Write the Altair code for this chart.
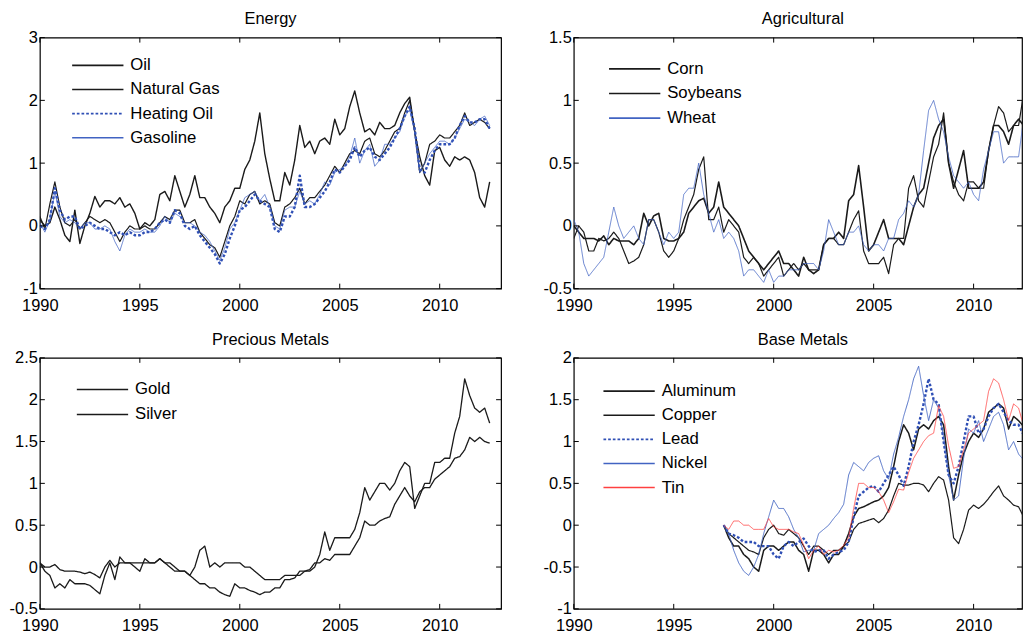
import altair as alt
import pandas as pd

FONT = "Liberation Sans"
BLACK = "#1a1a1a"
BLUE = "#2f4fb5"
BLUE_T = "#4163c2"
RED = "#ff4040"

X_TICKS = [1990, 1995, 2000, 2005, 2010]

# ---------------- Energy (quarterly from 1990.0) ----------------
energy_names = ["Oil", "Natural Gas", "Heating Oil", "Gasoline"]
oil = [
    0.15, -0.05, 0.35, 0.7,
    0.3, 0.05, 0.0, 0.1,
    -0.05, 0.05, 0.15, 0.1,
    0.05, 0.1, 0.05, -0.1,
    -0.25, -0.1, 0.0, -0.05,
    -0.05, 0.0, -0.05, -0.05,
    0.05, 0.15, 0.1, 0.25,
    0.25, 0.05, 0.05, 0.1,
    -0.1, -0.2, -0.3, -0.35,
    -0.5, -0.25, 0.0, 0.15,
    0.4, 0.35, 0.5, 0.55,
    0.35, 0.4, 0.35, 0.05,
    0.0, 0.3, 0.35, 0.45,
    0.6, 0.35, 0.45, 0.45,
    0.55, 0.65, 0.8, 0.95,
    0.85, 1.0, 1.15, 1.2,
    1.15, 1.35, 1.4, 1.15,
    1.1, 1.2, 1.35, 1.5,
    1.55, 1.8, 2.0, 1.5,
    0.85, 1.0, 1.3, 1.35,
    1.45, 1.4, 1.4, 1.5,
    1.6, 1.8, 1.6, 1.65,
    1.7, 1.65, 1.55,
]
natural_gas = [
    0.1, 0.0, 0.05, 0.3,
    0.1, -0.15, -0.25, 0.25,
    -0.28, 0.0, 0.2, 0.47,
    0.3, 0.4, 0.4, 0.35,
    0.45, 0.3, 0.35, 0.2,
    -0.05, 0.05, 0.0, 0.1,
    0.5, 0.55, 0.4, 0.8,
    0.55, 0.3, 0.5, 0.8,
    0.45, 0.45, 0.3, 0.2,
    0.05, 0.3, 0.4, 0.6,
    0.6, 0.9, 1.05, 1.35,
    1.8, 1.15, 0.75, 0.4,
    0.4, 0.85, 0.65, 1.05,
    1.6, 1.25, 1.35, 1.15,
    1.35, 1.4, 1.3, 1.7,
    1.45, 1.55, 1.9, 2.15,
    1.8, 1.5, 1.55, 1.45,
    1.65, 1.55, 1.55, 1.6,
    1.8, 1.95, 2.05, 1.5,
    1.1, 0.8, 0.65, 1.2,
    1.25, 1.05, 0.95, 1.1,
    1.05, 1.1, 1.05, 0.85,
    0.45, 0.3, 0.7,
]
heating_oil = [
    0.0, -0.05, 0.1, 0.6,
    0.25, 0.1, 0.15, 0.15,
    -0.05, 0.0, 0.05, 0.0,
    -0.05, -0.05, -0.1, -0.15,
    -0.1, -0.15, -0.1, -0.15,
    -0.15, -0.1, -0.1, -0.05,
    0.05, 0.1, 0.05, 0.25,
    0.2, 0.0, -0.05, 0.0,
    -0.15, -0.25, -0.35, -0.45,
    -0.6, -0.45, -0.2, 0.0,
    0.25, 0.3, 0.4, 0.5,
    0.4, 0.35, 0.3, -0.05,
    -0.1, 0.15, 0.15, 0.3,
    0.8, 0.3, 0.3, 0.35,
    0.45, 0.55, 0.7, 0.9,
    0.85, 0.95, 1.05, 1.25,
    1.1, 1.2, 1.25, 1.1,
    1.05, 1.15, 1.25, 1.4,
    1.55, 1.75, 1.9, 1.55,
    0.9, 0.85, 1.05, 1.2,
    1.3, 1.3, 1.3, 1.4,
    1.6, 1.75, 1.65, 1.65,
    1.7, 1.7, 1.55,
]
gasoline = [
    0.05, -0.1, 0.1, 0.55,
    0.15, 0.05, 0.1, 0.05,
    -0.05, 0.05, 0.05, -0.05,
    -0.05, 0.0, -0.05, -0.25,
    -0.4, -0.15, -0.05, -0.1,
    -0.1, -0.05, -0.1, -0.1,
    0.0, 0.15, 0.05, 0.2,
    0.15, 0.05, 0.05, 0.0,
    -0.1, -0.15, -0.25, -0.4,
    -0.55, -0.35, -0.05, 0.05,
    0.25, 0.45, 0.5, 0.55,
    0.4, 0.5, 0.3, 0.0,
    -0.05, 0.25, 0.3, 0.3,
    0.55, 0.35, 0.4, 0.35,
    0.5, 0.7, 0.65, 0.85,
    0.9, 0.95, 1.1, 1.4,
    1.0, 1.2, 1.3, 0.95,
    1.05, 1.3, 1.3, 1.4,
    1.5, 1.75, 1.85, 1.5,
    0.85, 1.0, 1.15, 1.25,
    1.35, 1.35, 1.3, 1.4,
    1.55, 1.7, 1.65, 1.6,
    1.7, 1.75, 1.6,
]

# ---------------- Agricultural (quarterly from 1990.0) ----------------
agri_names = ["Corn", "Soybeans", "Wheat"]
corn = [
    -0.1, 0.0, -0.05, -0.2,
    -0.2, -0.1, -0.12, -0.1,
    -0.05, -0.1, -0.2, -0.3,
    -0.28, -0.25, -0.15, 0.05,
    0.05, -0.05, -0.2, -0.25,
    -0.2, -0.1, 0.05, 0.15,
    0.25, 0.45, 0.55, 0.05,
    0.05, 0.15, -0.05, 0.05,
    0.0, -0.05, -0.25, -0.3,
    -0.25, -0.3, -0.4, -0.35,
    -0.3, -0.25, -0.4, -0.35,
    -0.3, -0.35, -0.3, -0.35,
    -0.35, -0.35, -0.15, -0.1,
    -0.1, -0.15, -0.15, -0.05,
    0.05, 0.12, -0.2, -0.3,
    -0.3, -0.3, -0.25, -0.38,
    -0.15, -0.1, -0.1, 0.3,
    0.4, 0.2, 0.15, 0.35,
    0.55, 0.65, 0.9, 0.5,
    0.35, 0.25, 0.2, 0.35,
    0.35, 0.3, 0.3, 0.6,
    0.8, 0.95, 0.9, 0.75,
    0.8, 0.8, 1.05,
]
soybeans = [
    0.0, -0.05, -0.1, -0.1,
    -0.1, -0.12, -0.08, -0.15,
    -0.1, -0.12, -0.12, -0.12,
    -0.15, -0.1, 0.1, 0.0,
    0.08, 0.1, -0.1, -0.12,
    -0.12, -0.1, -0.05, 0.1,
    0.15, 0.2, 0.22, 0.1,
    0.15, 0.35, 0.15, 0.1,
    0.05, 0.0, -0.1, -0.2,
    -0.25, -0.3, -0.35, -0.3,
    -0.25, -0.2, -0.3, -0.3,
    -0.35, -0.4, -0.25, -0.35,
    -0.38, -0.35, -0.15, -0.1,
    -0.1, -0.05, -0.1, 0.2,
    0.25, 0.48, 0.15, -0.2,
    -0.15, -0.05, 0.05, -0.1,
    -0.1, -0.1, -0.15, 0.0,
    0.15, 0.25, 0.3, 0.5,
    0.7, 0.8, 0.85, 0.5,
    0.3, 0.45, 0.6, 0.3,
    0.3, 0.3, 0.35, 0.6,
    0.8, 0.8, 0.75, 0.65,
    0.8, 0.85, 0.8,
]
wheat = [
    0.05, -0.05, -0.3, -0.4,
    -0.35, -0.3, -0.25, -0.05,
    0.15, 0.0, -0.1, -0.05,
    0.0, -0.1, -0.15, 0.05,
    0.05, -0.05, -0.15, -0.05,
    -0.1, -0.05, 0.25, 0.3,
    0.3, 0.5, 0.25, 0.1,
    -0.05, 0.05, -0.1, -0.05,
    -0.1, -0.2, -0.4, -0.35,
    -0.35, -0.4, -0.45, -0.35,
    -0.45, -0.4, -0.4, -0.35,
    -0.35, -0.35, -0.3, -0.3,
    -0.3, -0.35, -0.2, 0.05,
    -0.05, -0.15, -0.15, -0.05,
    -0.05, 0.0, -0.15, -0.2,
    -0.15, -0.15, -0.2, -0.1,
    -0.1, 0.05, 0.1, 0.2,
    0.15, 0.25, 0.6, 0.92,
    1.0, 0.85, 0.75, 0.55,
    0.4, 0.35, 0.3, 0.35,
    0.25, 0.2, 0.45, 0.6,
    0.75, 0.75, 0.5, 0.55,
    0.55, 0.55, 0.85,
]

# ---------------- Precious Metals (quarterly from 1990.0) ----------------
prec_names = ["Gold", "Silver"]
gold = [
    0.05, 0.0, 0.0, 0.03,
    -0.03, -0.05, -0.05, -0.05,
    -0.06, -0.08, -0.06, -0.09,
    -0.13, 0.0, 0.08, 0.0,
    0.05, 0.05, 0.05, 0.05,
    0.05, 0.05, 0.05, 0.05,
    0.1, 0.05, 0.05, 0.0,
    -0.05, -0.05, -0.1, -0.15,
    -0.2, -0.2, -0.25, -0.25,
    -0.3, -0.33, -0.35, -0.2,
    -0.25, -0.25, -0.28, -0.3,
    -0.33, -0.3, -0.3, -0.25,
    -0.25, -0.15, -0.15, -0.13,
    -0.05, -0.05, -0.03, 0.05,
    0.05, 0.1, 0.08, 0.15,
    0.15, 0.15, 0.15, 0.25,
    0.35, 0.55, 0.5, 0.5,
    0.55, 0.58, 0.6, 0.75,
    0.85, 0.95, 0.85, 0.78,
    0.9, 0.95, 0.95, 1.05,
    1.1, 1.15, 1.2, 1.3,
    1.32, 1.4, 1.55, 1.5,
    1.55, 1.5, 1.48,
]
silver = [
    0.05, -0.05, -0.1, -0.25,
    -0.2, -0.25, -0.15, -0.2,
    -0.2, -0.2, -0.22, -0.27,
    -0.32, -0.1, 0.05, -0.15,
    0.12, 0.05, 0.05, 0.0,
    -0.05, 0.1, 0.05, 0.05,
    0.1, 0.05, 0.0, -0.05,
    -0.05, -0.05, -0.1, 0.0,
    0.2, 0.25, 0.0, 0.05,
    0.0, 0.05, 0.05, 0.05,
    0.05, 0.0, 0.0, -0.05,
    -0.1, -0.15, -0.15, -0.15,
    -0.15, -0.1, -0.1, -0.1,
    -0.1, -0.05, -0.05, 0.0,
    0.15, 0.42, 0.2, 0.35,
    0.35, 0.35, 0.35, 0.45,
    0.65, 0.95, 0.8, 0.9,
    1.0, 1.0, 0.92, 1.0,
    1.15, 1.25, 1.2, 0.7,
    0.85, 1.0, 1.0, 1.25,
    1.25, 1.3, 1.3, 1.6,
    1.8, 2.25, 2.05, 1.9,
    1.85, 1.9, 1.72,
]

# ---------------- Base Metals (quarterly from 1997.5) ----------------
base_names = ["Aluminum", "Copper", "Lead", "Nickel", "Tin"]
aluminum = [
    0.0, -0.1,
    -0.15, -0.2, -0.25, -0.3,
    -0.32, -0.35, -0.15, -0.05,
    0.0, -0.1, -0.12, -0.05,
    -0.1, -0.15, -0.25, -0.35,
    -0.25, -0.25, -0.3, -0.35,
    -0.3, -0.3, -0.25, -0.2,
    -0.05, 0.02, 0.04, 0.06,
    0.08, 0.03, 0.08, 0.18,
    0.35, 0.5, 0.48, 0.48,
    0.5, 0.5, 0.48, 0.4,
    0.5, 0.58, 0.54, 0.3,
    -0.15, -0.22, -0.05, 0.18,
    0.24, 0.2, 0.25, 0.32,
    0.4, 0.47, 0.35, 0.3,
    0.24, 0.22, 0.1,
]
copper = [
    0.0, -0.15,
    -0.25, -0.25, -0.35, -0.4,
    -0.5, -0.55, -0.3, -0.25,
    -0.25, -0.3, -0.25, -0.2,
    -0.2, -0.3, -0.35, -0.55,
    -0.3, -0.3, -0.35, -0.45,
    -0.35, -0.35, -0.25, -0.1,
    0.1, 0.2, 0.22, 0.25,
    0.28, 0.3, 0.35, 0.45,
    0.7, 1.0, 1.2, 1.1,
    0.9, 1.15, 1.2, 1.15,
    1.25, 1.3, 1.2, 0.7,
    0.3, 0.6, 0.85, 1.0,
    1.1, 1.05, 1.15, 1.35,
    1.4, 1.45, 1.4, 1.15,
    1.3, 1.25, 1.18,
]
lead = [
    0.0, -0.1,
    -0.12, -0.15, -0.2, -0.2,
    -0.2, -0.25, -0.25, -0.25,
    -0.35, -0.4, -0.25, -0.2,
    -0.25, -0.2, -0.16, -0.25,
    -0.32, -0.3, -0.3, -0.4,
    -0.35, -0.32, -0.3, -0.2,
    0.1, 0.35, 0.4, 0.45,
    0.47, 0.4, 0.5, 0.6,
    0.7, 0.6, 0.47, 0.7,
    1.0, 1.2, 1.45, 1.75,
    1.5, 1.45, 1.0, 0.6,
    0.5, 0.7, 1.0, 1.3,
    1.3, 1.1, 1.15, 1.3,
    1.4, 1.45, 1.35, 1.25,
    1.2, 1.2, 1.08,
]
nickel = [
    0.0, -0.1,
    -0.3, -0.45, -0.55, -0.6,
    -0.5, -0.35, -0.1, 0.1,
    0.3, 0.2, 0.2, 0.1,
    -0.05, -0.15, -0.32, -0.3,
    -0.3, -0.1, -0.05, 0.0,
    0.08, 0.15, 0.25, 0.6,
    0.75, 0.7, 0.65, 0.75,
    0.8, 0.83, 0.65, 0.55,
    0.85, 1.05, 1.3, 1.5,
    1.75, 1.9, 1.55, 1.25,
    1.5, 1.4, 1.05, 0.6,
    0.3, 0.35, 0.8, 1.15,
    1.1, 1.25, 1.0, 1.15,
    1.3, 1.35, 1.2, 0.9,
    1.0, 0.85, 0.78,
]
tin = [
    0.0, -0.05,
    0.05, 0.05, 0.0, 0.0,
    -0.05, -0.05, -0.05, 0.08,
    -0.02, -0.05, -0.05, -0.05,
    -0.08, -0.1, -0.24, -0.4,
    -0.3, -0.25, -0.35, -0.3,
    -0.32, -0.3, -0.24, -0.15,
    0.2, 0.5, 0.5, 0.45,
    0.45, 0.4, 0.3, 0.15,
    0.28, 0.43, 0.42, 0.63,
    0.8, 0.9, 1.0, 1.07,
    1.1, 1.43, 1.3, 0.95,
    0.68, 0.7, 0.9, 1.1,
    1.15, 1.2, 1.25, 1.6,
    1.75, 1.7, 1.5, 1.25,
    1.45, 1.4, 1.19,
]

H = 252
EXT = 31
W_L = 463
W_R = 450
PX_PER_YEAR = 20.07

SOLID = [1, 0]
DOT = [2.7, 2]


def make_panel(title, names, values, start, colors, dashes, widths, ydomain, yticks,
               W, legx, legy, rowpad, title_dx=0, legend_widths=True):
    t = [start + 0.25 * i for i in range(len(values[0]))]
    rows = []
    for nm, vals, sw in zip(names, values, widths):
        for ti, v in zip(t, vals):
            rows.append({"year": ti, "value": v, "series": nm, "sw": sw})
    df = pd.DataFrame(rows)
    xs = alt.Scale(domain=[1990, 1990 + W / PX_PER_YEAR], nice=False, zero=False)
    ys = alt.Scale(domain=ydomain, nice=False, zero=False)
    xax = alt.Axis(values=X_TICKS, format="d", title=None, ticks=False, tickSize=0,
                   domain=False, grid=False, labelFlush=False, labelOverlap=False,
                   labelPadding=8.5)
    yax = alt.Axis(values=yticks, labelExpr="toString(datum.value)", title=None,
                   ticks=False, tickSize=0, domain=False, grid=False,
                   labelPadding=2.5, minExtent=EXT, maxExtent=EXT, labelOverlap=False)
    X = alt.X("year:Q", scale=xs, axis=xax)
    Y = alt.Y("value:Q", scale=ys, axis=yax)
    leg_kw = dict(title=None, orient="none", legendX=legx, legendY=legy, rowPadding=rowpad)
    if legend_widths:
        expr = " : ".join(f"datum.value === '{nm}' ? {sw}" for nm, sw in zip(names, widths)) + " : 1"
        leg_kw["encode"] = {"symbols": {"strokeWidth": {"value": {"expr": expr}}}}
    else:
        leg_kw["symbolStrokeWidth"] = 1.6
    leg = alt.Legend(**leg_kw)
    lines = alt.Chart(df).mark_line(strokeCap="butt", strokeJoin="round", clip=True).encode(
        x=X,
        y=Y,
        color=alt.Color("series:N", sort=names, scale=alt.Scale(domain=names, range=colors), legend=leg),
        strokeDash=alt.StrokeDash("series:N", sort=names, scale=alt.Scale(domain=names, range=dashes), legend=leg),
        strokeWidth=alt.StrokeWidth("sw:Q", scale=None, legend=None),
        detail="series:N",
    )
    xt = pd.DataFrame({"year": X_TICKS})
    yt = pd.DataFrame({"value": yticks})
    top = alt.Chart(xt).mark_rule(color="black", strokeWidth=1).encode(x=X, y=alt.value(0), y2=alt.value(5))
    bot = alt.Chart(xt).mark_rule(color="black", strokeWidth=1).encode(x=X, y=alt.value(H - 5), y2=alt.value(H))
    lft = alt.Chart(yt).mark_rule(color="black", strokeWidth=1).encode(y=Y, x=alt.value(0), x2=alt.value(5))
    rgt = alt.Chart(yt).mark_rule(color="black", strokeWidth=1).encode(y=Y, x=alt.value(W - 5), x2=alt.value(W))
    return alt.layer(lines, top, bot, lft, rgt).properties(
        width=W, height=H, title=alt.TitleParams(title, dx=title_dx))


def build(legend_widths):
    energy = make_panel("Energy", energy_names, [oil, natural_gas, heating_oil, gasoline], 1990.0,
                        [BLACK, BLACK, BLUE, BLUE_T], [SOLID, SOLID, DOT, SOLID], [1.2, 1.4, 2.4, 0.8],
                        [-1, 3], [-1, 0, 1, 2, 3], W_L, 24, 19.5, 6.2,
                        legend_widths=legend_widths)
    agri = make_panel("Agricultural", agri_names, [corn, soybeans, wheat], 1990.0,
                      [BLACK, BLACK, BLUE_T], [SOLID, SOLID, SOLID], [1.2, 1.6, 0.8],
                      [-0.5, 1.5], [-0.5, 0, 0.5, 1, 1.5], W_R, 27, 23, 6.7, title_dx=5,
                      legend_widths=legend_widths)
    precious = make_panel("Precious Metals", prec_names, [gold, silver], 1990.0,
                          [BLACK, BLACK], [SOLID, SOLID], [1.3, 1.3],
                          [-0.5, 2.5], [-0.5, 0, 0.5, 1, 1.5, 2, 2.5], W_L, 28.7, 23.3, 7.1,
                          legend_widths=legend_widths)
    base = make_panel("Base Metals", base_names, [aluminum, copper, lead, nickel, tin], 1997.5,
                      [BLACK, BLACK, BLUE, BLUE_T, RED], [SOLID, SOLID, DOT, SOLID, SOLID],
                      [1.2, 1.5, 2.4, 0.9, 0.8],
                      [-1, 2], [-1, -0.5, 0, 0.5, 1, 1.5, 2], W_R, 21.4, 25, 6.2, title_dx=5,
                      legend_widths=legend_widths)

    IND = dict(color="independent", strokeDash="independent", strokeWidth="independent")
    row1 = alt.hconcat(energy, agri, spacing=39).resolve_scale(**IND).resolve_legend(**IND)
    row2 = alt.hconcat(precious, base, spacing=39).resolve_scale(**IND).resolve_legend(**IND)

    return (
        alt.vconcat(row1, row2, spacing=16.5)
        .resolve_scale(**IND)
        .resolve_legend(**IND)
        .properties(padding={"left": 0, "top": 1.5, "right": 0, "bottom": 0})
        .configure(font=FONT)
        .configure_view(stroke="black", strokeWidth=1.2)
        .configure_axis(labelFont=FONT, labelFontSize=16.5, labelColor="black")
        .configure_title(font=FONT, fontSize=16.5, fontWeight="normal", color="black",
                         offset=1.75, anchor="middle", frame="group")
        .configure_legend(symbolType="M0,0H10.3", symbolSize=100,
                          labelOffset=50, labelFont=FONT, labelFontSize=16.8, labelColor="black",
                          padding=0)
    )


try:
    chart = build(True)
    chart.save("out.html", embed_options={"renderer": "svg", "actions": False})
except Exception:
    chart = build(False)
    chart.save("out.html", embed_options={"renderer": "svg", "actions": False})
